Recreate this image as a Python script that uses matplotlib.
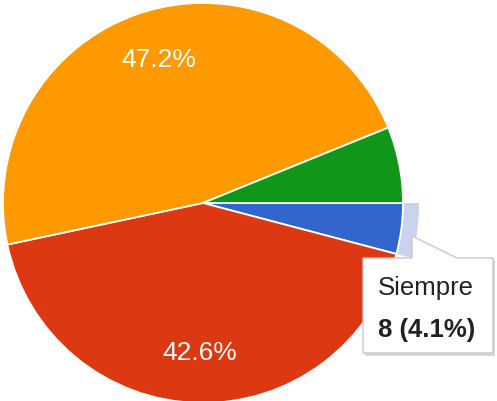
import matplotlib
matplotlib.use('Agg')
import matplotlib.pyplot as plt
from matplotlib.patches import Wedge, Polygon

plt.rcParams['font.family'] = ['Liberation Sans', 'DejaVu Sans']

# answers (clockwise from 3 o'clock): blue, red, orange, green
labels = ['Siempre', 'Casi nunca', 'A veces', 'Casi siempre']
counts = [8, 83, 92, 12]
colors = ['#3366cc', '#dc3912', '#ff9900', '#109618']
total = sum(counts)

fig = plt.figure(figsize=(4.97, 4.01), dpi=100)
ax = fig.add_axes([0, 0, 1, 1])

def pct(p):
    if p < 10:
        return ''
    return '%.1f%%' % p

wedges, texts, autotexts = ax.pie(counts, colors=colors, startangle=0, counterclock=False,
                                  radius=1.0, autopct=pct, pctdistance=0.75,
                                  wedgeprops=dict(edgecolor='white', linewidth=1.3))
for t in autotexts:
    t.set_color('white')
    t.set_fontsize(19)

# hover halo around the highlighted slice
w = wedges[0]
ax.add_patch(Wedge((0, 0), 1.08, w.theta1, w.theta2, width=0.075,
                   facecolor='#c9d3ee', edgecolor='none', zorder=3))

# tooltip
def px(x, y):
    return ((x - 203) / 200.0, (203 - y) / 200.0)

shadow = Polygon([px(365, 260), px(414, 260), px(414, 238), px(459, 260),
                  px(495, 260), px(495, 356), px(365, 356)],
                 closed=True, facecolor='#d8d8d8', edgecolor='none', zorder=4)
ax.add_patch(shadow)
box = Polygon([px(363, 258), px(412, 258), px(412, 236), px(457, 258),
               px(493, 258), px(493, 353), px(363, 353)],
              closed=True, facecolor='white', edgecolor='#c8c8c8', linewidth=1, zorder=5)
ax.add_patch(box)

sx, sy = px(378, 295)
ax.text(sx, sy, labels[0], fontsize=18.5, color='#222222', va='baseline', ha='left', zorder=6)
sx, sy = px(378, 337)
ax.text(sx, sy, '%d (%.1f%%)' % (counts[0], 100.0 * counts[0] / total), fontsize=18.5,
        fontweight='bold', color='#222222', va='baseline', ha='left', zorder=6)

ax.set_xlim(-203 / 200.0, (497 - 203) / 200.0)
ax.set_ylim((203 - 401) / 200.0, 203 / 200.0)
ax.set_aspect('auto')
ax.axis('off')

fig.savefig('out.png', dpi=100)
